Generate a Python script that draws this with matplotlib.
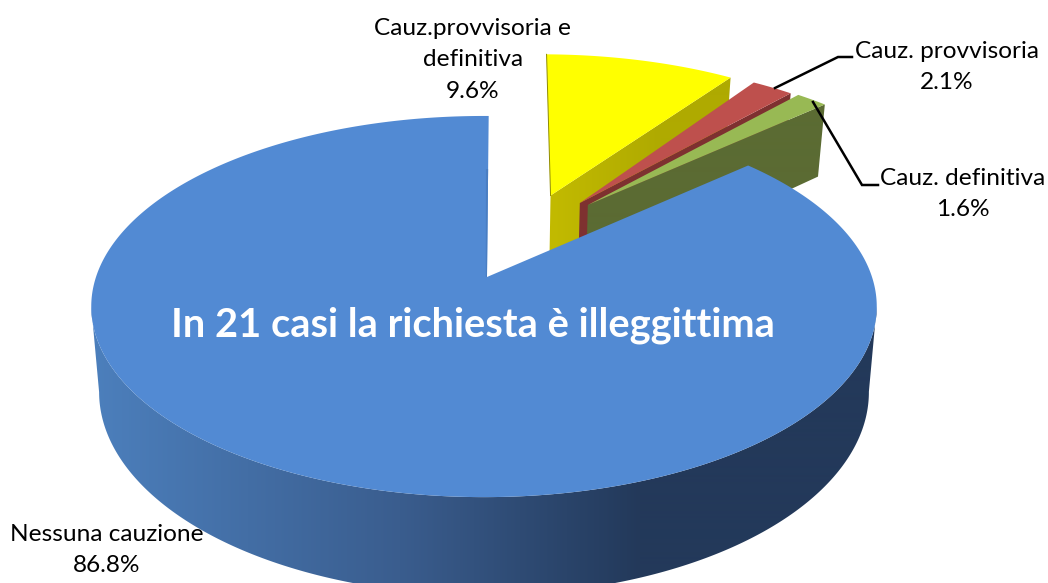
import numpy as np
import matplotlib
matplotlib.use("Agg")
import matplotlib.pyplot as plt
from matplotlib.patches import Polygon

# data
categories = ["Cauz.provvisoria e\ndefinitiva", "Cauz. provvisoria", "Cauz. definitiva", "Nessuna cauzione"]
values = [9.6, 2.1, 1.6, 86.8]
annotation = "In 21 casi la richiesta è illeggittima"

# styles
top_colors = ["#FFFF00", "#BE504D", "#98B954", "#528AD3"]
wall_stops = [["#C2BA00", "#AFAA00"], ["#7E3130", "#7E3130"], ["#5B6B33", "#5B6B33"], None]
explode = [(0.184, 0.47), (0.2632, 0.424), (0.2847, 0.412), (0.0, 0.0)]
rotate = [0.8, 0.0, 0.0, 0.8]
label_pos = [(473, 60), (947, 67), (963, 194), (107, 550)]

CENTER = (484, 277)
A, B, K = 388.0, 186.0, 0.155
S, T, D0 = 0.98, 1.066, 83.5
MAIN_APEX_U = 0.0077


def project(u, v, low=False):
    w = 1 + K * v
    if low:
        return CENTER[0] + A * S * u / w, CENTER[1] - (B * T * v / w - D0)
    return CENTER[0] + A * u / w, CENTER[1] - B * v / w


def arc(t0, t1, off, low=False, n=400):
    t = np.radians(np.linspace(t0, t1, n))
    return np.column_stack(project(off[0] + np.sin(t), off[1] + np.cos(t), low))


def hex_rgb(c):
    return np.array(matplotlib.colors.to_rgb(c))


def gradient(ax, poly, xs, cols, zorder):
    patch = Polygon(poly, closed=True, fc="none", ec="none", zorder=zorder)
    ax.add_patch(patch)
    x = np.arange(0, 1048)
    rgb = np.stack([np.interp(x, xs, [hex_rgb(c)[i] for c in cols]) for i in range(3)], axis=-1)
    im = ax.imshow(rgb[None, :, :], extent=(0, 1048, 583, 0), aspect="auto", zorder=zorder,
                   interpolation="bilinear")
    im.set_clip_path(patch)


fig = plt.figure(figsize=(10.48, 5.83), dpi=100)
ax = fig.add_axes([0, 0, 1, 1])
plt.rcParams["font.family"] = ["Lato", "DejaVu Sans"]

edges = np.cumsum([0] + values) / sum(values) * 360
z = 1
for i in range(3):
    t0, t1 = edges[i] + rotate[i], edges[i + 1] + rotate[i]
    off = explode[i]
    a_top = project(off[0], off[1])
    a_low = project(off[0], off[1], low=True)
    c_top = arc(t1, t1, off, n=1)[0]
    c_low = arc(t1, t1, off, low=True, n=1)[0]
    wall = np.array([a_top, c_top, c_low, a_low])
    gradient(ax, wall, [a_top[0], a_top[0] + 110], [wall_stops[i][0], wall_stops[i][1]], z)
    z += 1
    face = np.vstack([[a_top], arc(t0, t1, off)])
    ax.add_patch(Polygon(face, closed=True, fc=top_colors[i], ec="none", zorder=z))
    if i == 0:
        ax.plot(face[[0, 1], 0], face[[0, 1], 1], color="#8F8A00", lw=0.7, zorder=z)
    z += 1

# main slice: side wall, then top face
off = explode[3]
t0, t1 = edges[3] + rotate[3], edges[4] + rotate[3]
ts = np.linspace(t0, t1, 1500)
xt = arc(t0, t1, off, n=1500)[:, 0]
th_r, th_l = ts[np.argmax(xt)], ts[np.argmin(xt)]
wall = np.vstack([arc(th_r, th_l, off, n=500), arc(th_l, th_r, off, low=True, n=500)])
gradient(ax, wall, [95, 400, 640, 1048], ["#4C7FBC", "#3A5D8E", "#23395A", "#23395A"], z)
z += 1
apex = project(MAIN_APEX_U, 0.0)
rim = arc(t0, t1, off, n=1500)
face = np.vstack([[apex], rim])
ax.add_patch(Polygon(face, closed=True, fc=top_colors[3], ec="none", zorder=z))
z += 1
# thin shaded sliver along the slice's upper radial edge
tip = project(MAIN_APEX_U, 0.0)
mid = rim[-1] + (np.array(tip) - rim[-1]) * 0.33
sliver = np.array([tip, mid, mid + np.array([-2.2, 0]), np.array(tip) + np.array([-1.2, 0])])
ax.add_patch(Polygon(sliver, closed=True, fc="#4A7EC2", ec="none", zorder=z))
z += 1

ax.plot([775, 838, 852], [88, 57, 57], color="black", lw=1.8, zorder=z, solid_joinstyle="miter")
ax.plot([813, 862, 878], [102, 185, 185], color="black", lw=1.8, zorder=z, solid_joinstyle="miter")

for name, val, (x, y) in zip(categories, values, label_pos):
    ax.text(x, y, f"{name}\n{val:.1f}%", ha="center", va="center", fontsize=17.6,
            color="black", linespacing=1.6, zorder=z + 1)

ax.text(473, 325, annotation, ha="center", va="center", fontsize=28.7, fontweight="bold",
        color="white", zorder=z + 1)

ax.set_xlim(0, 1048)
ax.set_ylim(583, 0)
ax.axis("off")
fig.savefig("out.png", dpi=100, facecolor="white")
